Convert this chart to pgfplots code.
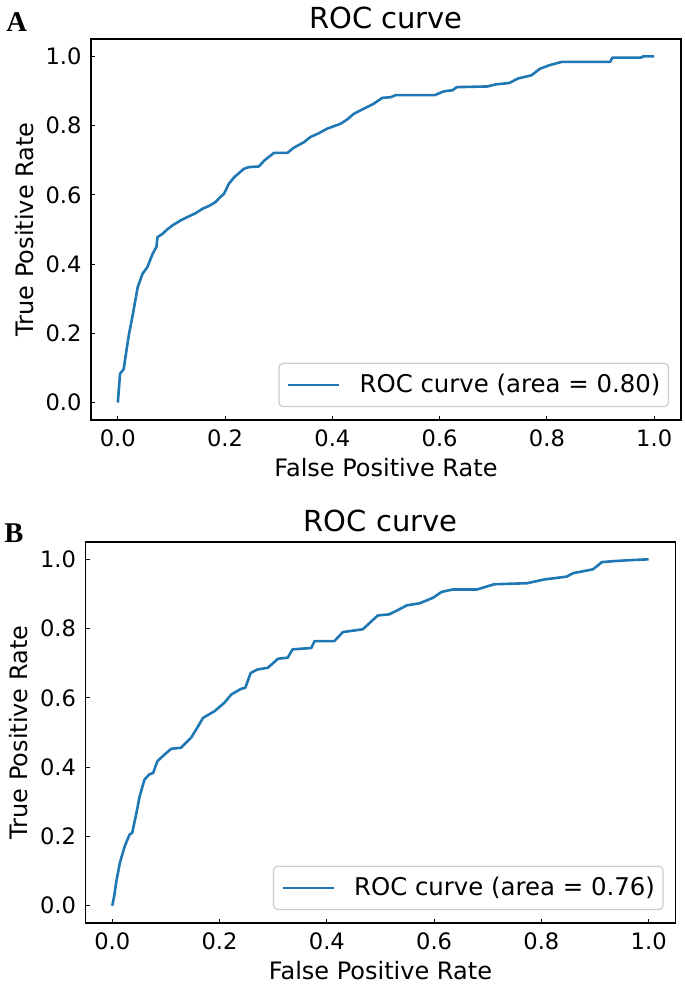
\documentclass[border=0pt]{standalone}
\usepackage{pgfplots}
\pgfplotsset{compat=1.18}
\usepackage{fontspec}
\setmainfont{DejaVu Sans}
\newfontfamily\panelfont{Liberation Serif}
\definecolor{mplblue}{RGB}{31,119,180}
\definecolor{legframe}{RGB}{204,204,204}

\pgfplotsset{
 rocax/.style={
  scale only axis, width=295pt, height=190.5pt,
  xmin=-0.05, xmax=1.05, ymin=-0.05, ymax=1.05,
  xtick={0,0.2,0.4,0.6,0.8,1}, ytick={0,0.2,0.4,0.6,0.8,1},
  tick align=inside, tick pos=left, major tick length=2.2pt,
  every tick/.style={black, line width=0.5pt},
  axis line style={black, line width=0.7pt},
  tick label style={font=\fontsize{11.3}{13}\selectfont,
    /pgf/number format/assume math mode=true,
    /pgf/number format/fixed, /pgf/number format/fixed zerofill,
    /pgf/number format/precision=1},
  xticklabel style={yshift=-1.2pt},
  yticklabel style={xshift=-1.2pt},
  xlabel={False Positive Rate}, ylabel={True Positive Rate},
  label style={font=\fontsize{12}{14}\selectfont},
  xlabel style={at={(axis description cs:0.5,-0.147)}, anchor=base},
  ylabel style={at={(axis description cs:-0.0983,0.5)}, anchor=base},
  title={ROC curve},
  every axis title/.style={at={(axis description cs:0.5,1.0276)}, anchor=base, font=\fontsize{14.5}{17}\selectfont},
  legend style={at={(axis description cs:0.9797,0.034)}, anchor=south east,
    draw=legframe, line width=0.6pt, rounded corners=2pt, fill=white,
    inner xsep=4pt, inner ysep=5.4pt, font=\fontsize{12.2}{14}\selectfont,
    nodes={inner sep=0pt}},
  legend image code/.code={\draw[#1, line width=1.3pt] (0pt,0pt) -- (25.5pt,0pt); \path (35pt,0pt);},
  legend cell align=left,
 },
 rocline/.style={color=mplblue, line width=1.3pt, line join=round, mark=none, sharp plot},
}

\begin{document}
\begin{tikzpicture}
\useasboundingbox (0,0) rectangle (342.5pt,493pt);

\begin{axis}[rocax, at={(45.5pt,283pt)}, anchor=south west]
\addplot[rocline] coordinates {
(0,0) (0.003,0.060) (0.004,0.083) (0.011,0.097) (0.016,0.150) (0.021,0.199)
(0.028,0.255) (0.037,0.333) (0.046,0.372) (0.055,0.391) (0.065,0.430)
(0.072,0.450) (0.074,0.478) (0.083,0.487) (0.092,0.500) (0.102,0.512)
(0.117,0.526) (0.130,0.536) (0.145,0.547) (0.158,0.560) (0.170,0.568)
(0.182,0.579) (0.190,0.592) (0.198,0.603) (0.207,0.632) (0.217,0.651)
(0.235,0.675) (0.244,0.680) (0.263,0.682) (0.273,0.699) (0.291,0.721)
(0.316,0.721) (0.328,0.736) (0.347,0.752) (0.359,0.767) (0.375,0.778)
(0.390,0.791) (0.415,0.805) (0.428,0.818) (0.440,0.834) (0.459,0.849)
(0.477,0.863) (0.493,0.880) (0.509,0.882) (0.518,0.888) (0.591,0.888)
(0.608,0.899) (0.624,0.902) (0.632,0.911) (0.689,0.913) (0.705,0.919)
(0.730,0.923) (0.746,0.936) (0.771,0.945) (0.787,0.964) (0.804,0.974)
(0.828,0.984) (0.918,0.984) (0.922,0.996) (0.975,0.996) (0.980,1.0) (1.0,1.0)
};
\addlegendentry{ROC curve (area = 0.80)}
\end{axis}

\begin{axis}[rocax, at={(42.75pt,31.5pt)}, anchor=south west]
\addplot[rocline] coordinates {
(0,0) (0.004,0.032) (0.007,0.066) (0.014,0.123) (0.023,0.171) (0.032,0.205)
(0.037,0.210) (0.045,0.268) (0.051,0.316) (0.060,0.364) (0.069,0.379)
(0.076,0.383) (0.084,0.417) (0.097,0.436) (0.110,0.453) (0.128,0.456)
(0.147,0.485) (0.160,0.518) (0.169,0.542) (0.191,0.562) (0.209,0.586)
(0.222,0.610) (0.240,0.626) (0.248,0.629) (0.258,0.672) (0.271,0.682)
(0.290,0.687) (0.309,0.713) (0.327,0.716) (0.336,0.740) (0.371,0.744)
(0.377,0.764) (0.414,0.764) (0.430,0.790) (0.467,0.798) (0.495,0.838)
(0.516,0.841) (0.533,0.854) (0.549,0.867) (0.573,0.873) (0.598,0.889)
(0.614,0.906) (0.635,0.913) (0.680,0.913) (0.712,0.928) (0.773,0.931)
(0.806,0.942) (0.847,0.950) (0.859,0.960) (0.896,0.971) (0.913,0.992)
(0.937,0.995) (0.970,0.998) (1.0,1.0)
};
\addlegendentry{ROC curve (area = 0.76)}
\end{axis}

\node[anchor=base west, inner sep=0pt, font=\panelfont\bfseries\fontsize{14.3}{16}\selectfont] at (3pt,477pt) {A};
\node[anchor=base west, inner sep=0pt, font=\panelfont\bfseries\fontsize{14.3}{16}\selectfont] at (2pt,221.5pt) {B};
\end{tikzpicture}
\end{document}
